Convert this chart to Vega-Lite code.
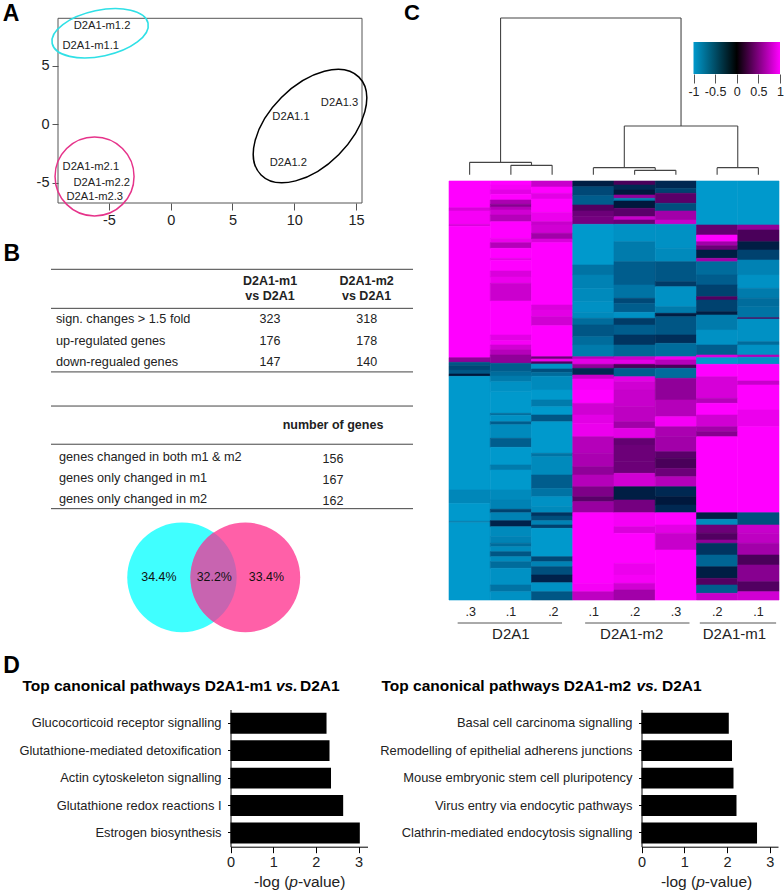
{"$schema":"https://vega.github.io/schema/vega-lite/v6.json","width":784,"height":893,"autosize":"none","padding":0,"background":"white","config":{"font":"Liberation Sans","view":{"stroke":null},"axis":{"grid":false,"labelColor":"#222","labelFont":"Liberation Sans"},"text":{"baseline":"middle","color":"#222"}},"resolve":{"scale":{"x":"independent","y":"independent"},"axis":{"x":"independent","y":"independent"}},"layer":[
{"encoding":{"x":{"field":"x","type":"quantitative","title":null,"scale":{"domain":[-9.13,15.49],"range":[58,362],"nice":false,"zero":false},"axis":{"orient":"bottom","offset":-690,"values":[-5,0,5,10,15],"labelExpr":"datum.value","domain":false,"tickSize":7,"tickColor":"#555","labelFontSize":14.5,"labelPadding":3,"labelFlush":false,"labelOverlap":false}},"y":{"field":"y","type":"quantitative","title":null,"scale":{"domain":[-6.73,9.06],"range":[203,18.3],"nice":false,"zero":false},"axis":{"orient":"left","offset":-58,"values":[-5,0,5],"labelExpr":"datum.value","domain":false,"tickSize":6,"tickColor":"#555","labelFontSize":14.5,"labelPadding":3,"labelOverlap":false}}},"layer":[
{"data":{"values":[{"x":-9.13,"x2":15.49,"y":-6.73,"y2":9.06}]},"mark":{"type":"rect","fill":"transparent","stroke":"#555","strokeWidth":1},"encoding":{"x2":{"field":"x2"},"y2":{"field":"y2"}}},
{"data":{"values":[{"x":-5.72,"y":7.78}]},"mark":{"type":"point","filled":false,"opacity":1,"stroke":"#2FE0E6","strokeWidth":1.6,"size":9604,"angle":348,"clip":false,"shape":"M1,0C1,.259 .552,.469 0,.469C-.552,.469 -1,.259 -1,0C-1,-.259 -.552,-.469 0,-.469C.552,-.469 1,-.259 1,0Z"}},
{"data":{"values":[{"x":-6.17,"y":-4.46}]},"mark":{"type":"point","filled":false,"opacity":1,"stroke":"#E6338A","strokeWidth":1.5,"size":6241,"shape":"circle"}},
{"data":{"values":[{"x":11.28,"y":-0.15}]},"mark":{"type":"point","filled":false,"opacity":1,"stroke":"#000","strokeWidth":1.5,"size":19155,"angle":315,"shape":"M1,0C1,.323 .552,.585 0,.585C-.552,.585 -1,.323 -1,0C-1,-.323 -.552,-.585 0,-.585C.552,-.585 1,-.323 1,0Z"}},
{"data":{"values":[{"t":"D2A1-m1.2","x":-5.56,"y":8.38},{"t":"D2A1-m1.1","x":-6.48,"y":6.67},{"t":"D2A1.3","x":13.67,"y":1.79},{"t":"D2A1.1","x":9.74,"y":0.62},{"t":"D2A1.2","x":9.52,"y":-3.33},{"t":"D2A1-m2.1","x":-6.47,"y":-3.68},{"t":"D2A1-m2.2","x":-5.59,"y":-4.99},{"t":"D2A1-m2.3","x":-6.15,"y":-6.24}]},"mark":{"type":"text","fontSize":11.2},"encoding":{"text":{"field":"t"}}},
{"data":{"values":[{"t":"A","x":-12.93,"y":9.43}]},"mark":{"type":"text","fontSize":23,"fontWeight":"bold","color":"#000"},"encoding":{"text":{"field":"t"}}}
]},
{"encoding":{"x":{"field":"x","type":"quantitative","title":null,"scale":{"domain":[0,1],"range":[51,413],"nice":false,"zero":false},"axis":null},"y":{"field":"y","type":"quantitative","title":null,"scale":{"domain":[0,11.25],"range":[269.3,509.3],"nice":false,"zero":false},"axis":null}},"layer":[
{"data":{"values":[{"x":0,"x2":1,"y":0},{"x":0,"x2":1,"y":1.83},{"x":0,"x2":1,"y":4.81},{"x":0,"x2":1,"y":6.41},{"x":0,"x2":1,"y":8.2},{"x":0,"x2":1,"y":11.22}]},"mark":{"type":"rule","color":"#444","strokeWidth":1},"encoding":{"x2":{"field":"x2"}}},
{"data":{"values":[{"t":"D2A1-m1","x":0.605,"y":0.534},{"t":"vs D2A1","x":0.605,"y":1.24},{"t":"D2A1-m2","x":0.872,"y":0.534},{"t":"vs D2A1","x":0.872,"y":1.24},{"t":"number of genes","x":0.779,"y":7.3}]},"mark":{"type":"text","fontSize":12.5,"fontWeight":"bold"},"encoding":{"text":{"field":"t"}}},
{"data":{"values":[{"t":"323","x":0.605,"y":2.34},{"t":"318","x":0.872,"y":2.34},{"t":"176","x":0.605,"y":3.35},{"t":"178","x":0.872,"y":3.35},{"t":"147","x":0.605,"y":4.35},{"t":"140","x":0.872,"y":4.35},{"t":"156","x":0.779,"y":8.89},{"t":"167","x":0.779,"y":9.88},{"t":"162","x":0.779,"y":10.88}]},"mark":{"type":"text","fontSize":12.5},"encoding":{"text":{"field":"t"}}},
{"data":{"values":[{"t":"sign. changes > 1.5 fold","x":0.0138,"y":2.34},{"t":"up-regulated genes","x":0.0138,"y":3.35},{"t":"down-regualed genes","x":0.0138,"y":4.35},{"t":"genes changed in both m1 & m2","x":0.022,"y":8.79},{"t":"genes only changed in m1","x":0.022,"y":9.77},{"t":"genes only changed in m2","x":0.022,"y":10.77}]},"mark":{"type":"text","fontSize":12.7,"align":"left"},"encoding":{"text":{"field":"t"}}},
{"data":{"values":[{"x":0.362,"y":14.44}]},"mark":{"type":"point","filled":true,"opacity":1,"color":"#40FFFF","size":12012,"shape":"circle","strokeWidth":0}},
{"data":{"values":[{"x":0.537,"y":14.44}]},"mark":{"type":"point","filled":true,"opacity":1,"color":"#FF60A8","size":12012,"shape":"circle","strokeWidth":0}},
{"data":{"values":[{"x":0.449,"y":14.44}]},"mark":{"type":"point","filled":true,"opacity":1,"color":"#C864B0","size":12012,"strokeWidth":0,"shape":"M0,-.8163C.563,-.4179 .563,.4179 0,.8163C-.563,.4179 -.563,-.4179 0,-.8163Z"}},
{"data":{"values":[{"t":"34.4%","x":0.298,"y":14.44},{"t":"32.2%","x":0.451,"y":14.44},{"t":"33.4%","x":0.595,"y":14.44}]},"mark":{"type":"text","fontSize":12.4,"color":"#111"},"encoding":{"text":{"field":"t"}}},
{"data":{"values":[{"t":"B","x":-0.108,"y":-0.74}]},"mark":{"type":"text","fontSize":23,"fontWeight":"bold","color":"#000"},"encoding":{"text":{"field":"t"}}}
]},
{"encoding":{"x":{"field":"x","type":"quantitative","title":null,"scale":{"domain":[0,8],"range":[449,779],"nice":false,"zero":false},"axis":null},"y":{"field":"y","type":"quantitative","title":null,"scale":{"domain":[-0.19,5.24],"range":[181,0],"nice":false,"zero":false},"axis":null}},"layer":[
{"data":{"values":[{"x":0.5,"x2":2,"y":0.37,"y2":0.37},{"x":0.5,"x2":0.5,"y":0.37,"y2":0},{"x":2,"x2":2,"y":0.37,"y2":0.28},{"x":1.5,"x2":2.5,"y":0.28,"y2":0.28},{"x":1.5,"x2":1.5,"y":0.28,"y2":0},{"x":2.5,"x2":2.5,"y":0.28,"y2":0},{"x":1.25,"x2":1.25,"y":0.37,"y2":4.7},{"x":1.25,"x2":5.625,"y":4.7,"y2":4.7},{"x":5.625,"x2":5.625,"y":4.7,"y2":1.46},{"x":4.25,"x2":7,"y":1.46,"y2":1.46},{"x":4.25,"x2":4.25,"y":1.46,"y2":0.21},{"x":7,"x2":7,"y":1.46,"y2":0.21},{"x":3.5,"x2":5,"y":0.21,"y2":0.21},{"x":3.5,"x2":3.5,"y":0.21,"y2":0},{"x":5,"x2":5,"y":0.21,"y2":0.13},{"x":4.5,"x2":5.5,"y":0.13,"y2":0.13},{"x":4.5,"x2":4.5,"y":0.13,"y2":0},{"x":5.5,"x2":5.5,"y":0.13,"y2":0},{"x":6.5,"x2":7.5,"y":0.21,"y2":0.21},{"x":6.5,"x2":6.5,"y":0.21,"y2":0},{"x":7.5,"x2":7.5,"y":0.21,"y2":0}]},"mark":{"type":"rule","color":"#444","strokeWidth":1.1},"encoding":{"x2":{"field":"x2"},"y2":{"field":"y2"}}},
{"data":{"values":[{"t":"C","x":-0.9,"y":4.84}]},"mark":{"type":"text","fontSize":22,"fontWeight":"bold","color":"#000"},"encoding":{"text":{"field":"t"}}}
]},
{"data":{"values":[{"lo":-1,"hi":1}]},"mark":{"type":"rect","color":{"gradient":"linear","x1":0,"x2":1,"y1":0,"y2":0,"stops":[{"offset":0,"color":"#0099CC"},{"offset":0.5,"color":"#000000"},{"offset":1,"color":"#FF00FF"}]}},"encoding":{"x":{"field":"lo","type":"quantitative","title":null,"scale":{"domain":[-1,1],"range":[693.5,780],"nice":false,"zero":false},"axis":{"orient":"bottom","offset":-819,"values":[-1,-0.5,0,0.5,1],"labelExpr":"datum.value","domain":false,"tickSize":9,"tickColor":"#555","labelFontSize":12.5,"labelPadding":2,"labelFlush":false,"labelOverlap":false}},"x2":{"field":"hi"},"y":{"datum":0,"type":"quantitative","title":null,"scale":{"domain":[0,1],"range":[74,42],"nice":false,"zero":false},"axis":null},"y2":{"datum":1}}},
{"encoding":{"x":{"field":"x","type":"quantitative","title":null,"scale":{"domain":[0,8],"range":[449,779],"nice":false,"zero":false},"axis":null},"y":{"field":"y","type":"quantitative","title":null,"scale":{"domain":[0,1257],"range":[181,600],"nice":false,"zero":false},"axis":null}},"layer":[
{"data":{"values":[
{"x":0,"x2":1,"y":0,"y2":80,"v":1},{"x":0,"x2":1,"y":80,"y2":90,"v":0.8},{"x":0,"x2":1,"y":90,"y2":130,"v":0.95},{"x":0,"x2":1,"y":130,"y2":136,"v":0.8},{"x":0,"x2":1,"y":136,"y2":530,"v":1},{"x":0,"x2":1,"y":530,"y2":544,"v":0.4},{"x":0,"x2":1,"y":544,"y2":554,"v":-0.55},{"x":0,"x2":1,"y":554,"y2":567,"v":-0.45},{"x":0,"x2":1,"y":567,"y2":579,"v":-0.55},{"x":0,"x2":1,"y":579,"y2":586,"v":-0.05},{"x":0,"x2":1,"y":586,"y2":927,"v":-1},{"x":0,"x2":1,"y":927,"y2":967,"v":-0.88},{"x":0,"x2":1,"y":967,"y2":1021,"v":-1},{"x":0,"x2":1,"y":1021,"y2":1025,"v":-0.8},{"x":0,"x2":1,"y":1025,"y2":1257,"v":-1},
{"x":1,"x2":2,"y":0,"y2":12,"v":1},{"x":1,"x2":2,"y":12,"y2":27,"v":0.95},{"x":1,"x2":2,"y":27,"y2":40,"v":0.85},{"x":1,"x2":2,"y":40,"y2":57,"v":1},{"x":1,"x2":2,"y":57,"y2":70,"v":0.55},{"x":1,"x2":2,"y":70,"y2":78,"v":0.35},{"x":1,"x2":2,"y":78,"y2":87,"v":0.6},{"x":1,"x2":2,"y":87,"y2":102,"v":0.75},{"x":1,"x2":2,"y":102,"y2":122,"v":0.6},{"x":1,"x2":2,"y":122,"y2":172,"v":1},{"x":1,"x2":2,"y":172,"y2":185,"v":0.9},{"x":1,"x2":2,"y":185,"y2":202,"v":0.6},{"x":1,"x2":2,"y":202,"y2":232,"v":1},{"x":1,"x2":2,"y":232,"y2":238,"v":0.85},{"x":1,"x2":2,"y":238,"y2":270,"v":1},{"x":1,"x2":2,"y":270,"y2":288,"v":0.8},{"x":1,"x2":2,"y":288,"y2":307,"v":0.9},{"x":1,"x2":2,"y":307,"y2":360,"v":0.72},{"x":1,"x2":2,"y":360,"y2":462,"v":1},{"x":1,"x2":2,"y":462,"y2":479,"v":0.85},{"x":1,"x2":2,"y":479,"y2":492,"v":0.95},{"x":1,"x2":2,"y":492,"y2":507,"v":0.75},{"x":1,"x2":2,"y":507,"y2":522,"v":0.6},{"x":1,"x2":2,"y":522,"y2":547,"v":0.4},{"x":1,"x2":2,"y":547,"y2":572,"v":-0.6},{"x":1,"x2":2,"y":572,"y2":585,"v":-0.7},{"x":1,"x2":2,"y":585,"y2":602,"v":-0.8},{"x":1,"x2":2,"y":602,"y2":632,"v":-0.95},{"x":1,"x2":2,"y":632,"y2":697,"v":-1},{"x":1,"x2":2,"y":697,"y2":703,"v":-0.7},{"x":1,"x2":2,"y":703,"y2":722,"v":-0.95},{"x":1,"x2":2,"y":722,"y2":731,"v":-0.6},{"x":1,"x2":2,"y":731,"y2":772,"v":-0.9},{"x":1,"x2":2,"y":772,"y2":799,"v":-0.6},{"x":1,"x2":2,"y":799,"y2":852,"v":-1},{"x":1,"x2":2,"y":852,"y2":867,"v":-0.8},{"x":1,"x2":2,"y":867,"y2":927,"v":-1},{"x":1,"x2":2,"y":927,"y2":957,"v":-0.9},{"x":1,"x2":2,"y":957,"y2":985,"v":-0.85},{"x":1,"x2":2,"y":985,"y2":995,"v":-0.4},{"x":1,"x2":2,"y":995,"y2":1019,"v":-0.85},{"x":1,"x2":2,"y":1019,"y2":1037,"v":-0.15},{"x":1,"x2":2,"y":1037,"y2":1067,"v":-0.9},{"x":1,"x2":2,"y":1067,"y2":1087,"v":-0.85},{"x":1,"x2":2,"y":1087,"y2":1097,"v":-0.7},{"x":1,"x2":2,"y":1097,"y2":1112,"v":-0.9},{"x":1,"x2":2,"y":1112,"y2":1127,"v":-0.55},{"x":1,"x2":2,"y":1127,"y2":1142,"v":-0.9},{"x":1,"x2":2,"y":1142,"y2":1162,"v":-0.7},{"x":1,"x2":2,"y":1162,"y2":1212,"v":-0.95},{"x":1,"x2":2,"y":1212,"y2":1232,"v":-0.75},{"x":1,"x2":2,"y":1232,"y2":1257,"v":-0.95},
{"x":2,"x2":3,"y":0,"y2":18,"v":0.7},{"x":2,"x2":3,"y":18,"y2":37,"v":1},{"x":2,"x2":3,"y":37,"y2":54,"v":0.85},{"x":2,"x2":3,"y":54,"y2":94,"v":1},{"x":2,"x2":3,"y":94,"y2":122,"v":0.9},{"x":2,"x2":3,"y":122,"y2":132,"v":0.7},{"x":2,"x2":3,"y":132,"y2":157,"v":0.75},{"x":2,"x2":3,"y":157,"y2":174,"v":0.5},{"x":2,"x2":3,"y":174,"y2":185,"v":0.8},{"x":2,"x2":3,"y":185,"y2":372,"v":1},{"x":2,"x2":3,"y":372,"y2":387,"v":0.8},{"x":2,"x2":3,"y":387,"y2":407,"v":0.85},{"x":2,"x2":3,"y":407,"y2":434,"v":0.75},{"x":2,"x2":3,"y":434,"y2":527,"v":1},{"x":2,"x2":3,"y":527,"y2":534,"v":0.2},{"x":2,"x2":3,"y":534,"y2":542,"v":0.9},{"x":2,"x2":3,"y":542,"y2":549,"v":0.05},{"x":2,"x2":3,"y":549,"y2":564,"v":-0.95},{"x":2,"x2":3,"y":564,"y2":574,"v":-0.5},{"x":2,"x2":3,"y":574,"y2":586,"v":-0.7},{"x":2,"x2":3,"y":586,"y2":627,"v":-0.9},{"x":2,"x2":3,"y":627,"y2":657,"v":-1},{"x":2,"x2":3,"y":657,"y2":677,"v":-0.8},{"x":2,"x2":3,"y":677,"y2":702,"v":-1},{"x":2,"x2":3,"y":702,"y2":722,"v":-0.55},{"x":2,"x2":3,"y":722,"y2":817,"v":-1},{"x":2,"x2":3,"y":817,"y2":827,"v":-0.75},{"x":2,"x2":3,"y":827,"y2":882,"v":-0.9},{"x":2,"x2":3,"y":882,"y2":922,"v":-0.6},{"x":2,"x2":3,"y":922,"y2":947,"v":-0.75},{"x":2,"x2":3,"y":947,"y2":977,"v":-0.95},{"x":2,"x2":3,"y":977,"y2":995,"v":-0.9},{"x":2,"x2":3,"y":995,"y2":1005,"v":-0.3},{"x":2,"x2":3,"y":1005,"y2":1019,"v":-0.5},{"x":2,"x2":3,"y":1019,"y2":1032,"v":-0.85},{"x":2,"x2":3,"y":1032,"y2":1042,"v":-0.4},{"x":2,"x2":3,"y":1042,"y2":1127,"v":-1},{"x":2,"x2":3,"y":1127,"y2":1142,"v":-0.45},{"x":2,"x2":3,"y":1142,"y2":1157,"v":-0.85},{"x":2,"x2":3,"y":1157,"y2":1182,"v":-0.5},{"x":2,"x2":3,"y":1182,"y2":1205,"v":-0.15},{"x":2,"x2":3,"y":1205,"y2":1232,"v":-0.95},{"x":2,"x2":3,"y":1232,"y2":1257,"v":-0.55},
{"x":3,"x2":4,"y":0,"y2":17,"v":-0.1},{"x":3,"x2":4,"y":17,"y2":44,"v":-0.45},{"x":3,"x2":4,"y":44,"y2":72,"v":-0.6},{"x":3,"x2":4,"y":72,"y2":90,"v":0.05},{"x":3,"x2":4,"y":90,"y2":107,"v":0.2},{"x":3,"x2":4,"y":107,"y2":130,"v":0.25},{"x":3,"x2":4,"y":130,"y2":252,"v":-1},{"x":3,"x2":4,"y":252,"y2":282,"v":-0.75},{"x":3,"x2":4,"y":282,"y2":322,"v":-0.85},{"x":3,"x2":4,"y":322,"y2":362,"v":-0.9},{"x":3,"x2":4,"y":362,"y2":394,"v":-0.95},{"x":3,"x2":4,"y":394,"y2":412,"v":-0.9},{"x":3,"x2":4,"y":412,"y2":432,"v":-0.7},{"x":3,"x2":4,"y":432,"y2":467,"v":-0.55},{"x":3,"x2":4,"y":467,"y2":492,"v":-0.7},{"x":3,"x2":4,"y":492,"y2":527,"v":-0.8},{"x":3,"x2":4,"y":527,"y2":534,"v":0.6},{"x":3,"x2":4,"y":534,"y2":550,"v":0.85},{"x":3,"x2":4,"y":550,"y2":562,"v":0.4},{"x":3,"x2":4,"y":562,"y2":582,"v":-0.2},{"x":3,"x2":4,"y":582,"y2":594,"v":0.7},{"x":3,"x2":4,"y":594,"y2":627,"v":0.95},{"x":3,"x2":4,"y":627,"y2":667,"v":1},{"x":3,"x2":4,"y":667,"y2":702,"v":0.75},{"x":3,"x2":4,"y":702,"y2":727,"v":0.85},{"x":3,"x2":4,"y":727,"y2":767,"v":0.9},{"x":3,"x2":4,"y":767,"y2":817,"v":0.6},{"x":3,"x2":4,"y":817,"y2":857,"v":0.55},{"x":3,"x2":4,"y":857,"y2":882,"v":0.4},{"x":3,"x2":4,"y":882,"y2":917,"v":0.6},{"x":3,"x2":4,"y":917,"y2":947,"v":0.3},{"x":3,"x2":4,"y":947,"y2":962,"v":0.1},{"x":3,"x2":4,"y":962,"y2":995,"v":0.45},{"x":3,"x2":4,"y":995,"y2":1207,"v":1},{"x":3,"x2":4,"y":1207,"y2":1232,"v":0.95},{"x":3,"x2":4,"y":1232,"y2":1257,"v":0.65},
{"x":4,"x2":5,"y":0,"y2":12,"v":0},{"x":4,"x2":5,"y":12,"y2":27,"v":-0.2},{"x":4,"x2":5,"y":27,"y2":42,"v":-0.05},{"x":4,"x2":5,"y":42,"y2":52,"v":0.4},{"x":4,"x2":5,"y":52,"y2":60,"v":-0.8},{"x":4,"x2":5,"y":60,"y2":82,"v":-0.05},{"x":4,"x2":5,"y":82,"y2":107,"v":0.1},{"x":4,"x2":5,"y":107,"y2":117,"v":0.7},{"x":4,"x2":5,"y":117,"y2":130,"v":0.2},{"x":4,"x2":5,"y":130,"y2":182,"v":-0.95},{"x":4,"x2":5,"y":182,"y2":242,"v":-0.8},{"x":4,"x2":5,"y":242,"y2":312,"v":-0.6},{"x":4,"x2":5,"y":312,"y2":352,"v":-0.75},{"x":4,"x2":5,"y":352,"y2":367,"v":-0.45},{"x":4,"x2":5,"y":367,"y2":394,"v":-0.6},{"x":4,"x2":5,"y":394,"y2":412,"v":-0.95},{"x":4,"x2":5,"y":412,"y2":432,"v":-0.35},{"x":4,"x2":5,"y":432,"y2":462,"v":-0.6},{"x":4,"x2":5,"y":462,"y2":492,"v":-0.3},{"x":4,"x2":5,"y":492,"y2":527,"v":-0.65},{"x":4,"x2":5,"y":527,"y2":537,"v":0.7},{"x":4,"x2":5,"y":537,"y2":550,"v":0.85},{"x":4,"x2":5,"y":550,"y2":562,"v":0},{"x":4,"x2":5,"y":562,"y2":587,"v":-0.6},{"x":4,"x2":5,"y":587,"y2":602,"v":0.85},{"x":4,"x2":5,"y":602,"y2":627,"v":0.75},{"x":4,"x2":5,"y":627,"y2":677,"v":0.7},{"x":4,"x2":5,"y":677,"y2":722,"v":0.65},{"x":4,"x2":5,"y":722,"y2":742,"v":0.5},{"x":4,"x2":5,"y":742,"y2":772,"v":0.85},{"x":4,"x2":5,"y":772,"y2":792,"v":0.15},{"x":4,"x2":5,"y":792,"y2":842,"v":0.2},{"x":4,"x2":5,"y":842,"y2":877,"v":0.2},{"x":4,"x2":5,"y":877,"y2":917,"v":0.75},{"x":4,"x2":5,"y":917,"y2":957,"v":-0.1},{"x":4,"x2":5,"y":957,"y2":995,"v":0.25},{"x":4,"x2":5,"y":995,"y2":1037,"v":0.95},{"x":4,"x2":5,"y":1037,"y2":1057,"v":0.8},{"x":4,"x2":5,"y":1057,"y2":1147,"v":1},{"x":4,"x2":5,"y":1147,"y2":1182,"v":0.9},{"x":4,"x2":5,"y":1182,"y2":1207,"v":0.95},{"x":4,"x2":5,"y":1207,"y2":1227,"v":0.75},{"x":4,"x2":5,"y":1227,"y2":1257,"v":0.5},
{"x":5,"x2":6,"y":0,"y2":22,"v":-0.2},{"x":5,"x2":6,"y":22,"y2":37,"v":-0.4},{"x":5,"x2":6,"y":37,"y2":67,"v":0.1},{"x":5,"x2":6,"y":67,"y2":90,"v":-0.5},{"x":5,"x2":6,"y":90,"y2":117,"v":0.5},{"x":5,"x2":6,"y":117,"y2":130,"v":0.7},{"x":5,"x2":6,"y":130,"y2":202,"v":-0.95},{"x":5,"x2":6,"y":202,"y2":242,"v":-0.9},{"x":5,"x2":6,"y":242,"y2":302,"v":-0.55},{"x":5,"x2":6,"y":302,"y2":317,"v":-0.35},{"x":5,"x2":6,"y":317,"y2":377,"v":-0.95},{"x":5,"x2":6,"y":377,"y2":397,"v":-0.8},{"x":5,"x2":6,"y":397,"y2":407,"v":-0.1},{"x":5,"x2":6,"y":407,"y2":462,"v":-0.55},{"x":5,"x2":6,"y":462,"y2":487,"v":-0.25},{"x":5,"x2":6,"y":487,"y2":527,"v":-0.7},{"x":5,"x2":6,"y":527,"y2":537,"v":0.9},{"x":5,"x2":6,"y":537,"y2":552,"v":0.6},{"x":5,"x2":6,"y":552,"y2":562,"v":0},{"x":5,"x2":6,"y":562,"y2":592,"v":-0.7},{"x":5,"x2":6,"y":592,"y2":657,"v":0.4},{"x":5,"x2":6,"y":657,"y2":707,"v":0.6},{"x":5,"x2":6,"y":707,"y2":737,"v":0.95},{"x":5,"x2":6,"y":737,"y2":767,"v":0.55},{"x":5,"x2":6,"y":767,"y2":812,"v":0.5},{"x":5,"x2":6,"y":812,"y2":832,"v":0.1},{"x":5,"x2":6,"y":832,"y2":862,"v":0},{"x":5,"x2":6,"y":862,"y2":887,"v":0.2},{"x":5,"x2":6,"y":887,"y2":917,"v":0.6},{"x":5,"x2":6,"y":917,"y2":947,"v":-0.2},{"x":5,"x2":6,"y":947,"y2":972,"v":-0.05},{"x":5,"x2":6,"y":972,"y2":995,"v":-0.2},{"x":5,"x2":6,"y":995,"y2":1032,"v":1},{"x":5,"x2":6,"y":1032,"y2":1057,"v":0.85},{"x":5,"x2":6,"y":1057,"y2":1107,"v":0.7},{"x":5,"x2":6,"y":1107,"y2":1257,"v":1},
{"x":6,"x2":7,"y":0,"y2":132,"v":-1},{"x":6,"x2":7,"y":132,"y2":162,"v":0.15},{"x":6,"x2":7,"y":162,"y2":182,"v":1},{"x":6,"x2":7,"y":182,"y2":194,"v":0.5},{"x":6,"x2":7,"y":194,"y2":207,"v":0.2},{"x":6,"x2":7,"y":207,"y2":232,"v":-0.1},{"x":6,"x2":7,"y":232,"y2":242,"v":0.5},{"x":6,"x2":7,"y":242,"y2":282,"v":-0.7},{"x":6,"x2":7,"y":282,"y2":312,"v":-0.6},{"x":6,"x2":7,"y":312,"y2":347,"v":-0.4},{"x":6,"x2":7,"y":347,"y2":357,"v":0.05},{"x":6,"x2":7,"y":357,"y2":392,"v":-0.4},{"x":6,"x2":7,"y":392,"y2":402,"v":-0.1},{"x":6,"x2":7,"y":402,"y2":447,"v":-0.8},{"x":6,"x2":7,"y":447,"y2":492,"v":-0.95},{"x":6,"x2":7,"y":492,"y2":522,"v":-0.6},{"x":6,"x2":7,"y":522,"y2":530,"v":0.8},{"x":6,"x2":7,"y":530,"y2":550,"v":-1},{"x":6,"x2":7,"y":550,"y2":587,"v":1},{"x":6,"x2":7,"y":587,"y2":652,"v":0.78},{"x":6,"x2":7,"y":652,"y2":667,"v":0.6},{"x":6,"x2":7,"y":667,"y2":702,"v":1},{"x":6,"x2":7,"y":702,"y2":737,"v":0.75},{"x":6,"x2":7,"y":737,"y2":752,"v":0.5},{"x":6,"x2":7,"y":752,"y2":767,"v":0.35},{"x":6,"x2":7,"y":767,"y2":995,"v":1},{"x":6,"x2":7,"y":995,"y2":1015,"v":-0.1},{"x":6,"x2":7,"y":1015,"y2":1032,"v":-0.9},{"x":6,"x2":7,"y":1032,"y2":1057,"v":0.2},{"x":6,"x2":7,"y":1057,"y2":1077,"v":0.05},{"x":6,"x2":7,"y":1077,"y2":1087,"v":0.4},{"x":6,"x2":7,"y":1087,"y2":1122,"v":-0.3},{"x":6,"x2":7,"y":1122,"y2":1157,"v":-0.65},{"x":6,"x2":7,"y":1157,"y2":1192,"v":-0.1},{"x":6,"x2":7,"y":1192,"y2":1212,"v":0.05},{"x":6,"x2":7,"y":1212,"y2":1237,"v":-0.6},{"x":6,"x2":7,"y":1237,"y2":1257,"v":0.7},
{"x":7,"x2":8,"y":0,"y2":132,"v":-1},{"x":7,"x2":8,"y":132,"y2":147,"v":0.4},{"x":7,"x2":8,"y":147,"y2":182,"v":0},{"x":7,"x2":8,"y":182,"y2":207,"v":-0.1},{"x":7,"x2":8,"y":207,"y2":237,"v":-0.4},{"x":7,"x2":8,"y":237,"y2":282,"v":-0.85},{"x":7,"x2":8,"y":282,"y2":322,"v":-0.95},{"x":7,"x2":8,"y":322,"y2":352,"v":-0.8},{"x":7,"x2":8,"y":352,"y2":377,"v":-0.7},{"x":7,"x2":8,"y":377,"y2":410,"v":-0.75},{"x":7,"x2":8,"y":410,"y2":414,"v":0},{"x":7,"x2":8,"y":414,"y2":482,"v":-0.95},{"x":7,"x2":8,"y":482,"y2":492,"v":-0.7},{"x":7,"x2":8,"y":492,"y2":522,"v":-0.95},{"x":7,"x2":8,"y":522,"y2":529,"v":0.6},{"x":7,"x2":8,"y":529,"y2":550,"v":-0.95},{"x":7,"x2":8,"y":550,"y2":600,"v":1},{"x":7,"x2":8,"y":600,"y2":612,"v":0.7},{"x":7,"x2":8,"y":612,"y2":687,"v":1},{"x":7,"x2":8,"y":687,"y2":737,"v":0.9},{"x":7,"x2":8,"y":737,"y2":995,"v":1},{"x":7,"x2":8,"y":995,"y2":1032,"v":-0.5},{"x":7,"x2":8,"y":1032,"y2":1057,"v":0.7},{"x":7,"x2":8,"y":1057,"y2":1087,"v":0.65},{"x":7,"x2":8,"y":1087,"y2":1122,"v":0.5},{"x":7,"x2":8,"y":1122,"y2":1152,"v":0},{"x":7,"x2":8,"y":1152,"y2":1202,"v":0.35},{"x":7,"x2":8,"y":1202,"y2":1232,"v":0.05},{"x":7,"x2":8,"y":1232,"y2":1257,"v":0.75}
]},"mark":{"type":"rect","strokeWidth":0.6},"encoding":{"x2":{"field":"x2"},"y2":{"field":"y2"},"color":{"field":"v","type":"quantitative","scale":{"domain":[-1,0,1],"range":["#0099CC","#000000","#FF00FF"]},"legend":null},"stroke":{"field":"v","type":"quantitative","scale":{"domain":[-1,0,1],"range":["#0099CC","#000000","#FF00FF"]},"legend":null}}},
{"data":{"values":[{"t":".3","x":0.526,"y":1292},{"t":".1","x":1.5,"y":1292},{"t":".2","x":2.53,"y":1292},{"t":".1","x":3.51,"y":1292},{"t":".2","x":4.51,"y":1292},{"t":".3","x":5.5,"y":1292},{"t":".2","x":6.5,"y":1292},{"t":".1","x":7.5,"y":1292}]},"mark":{"type":"text","fontSize":12.5},"encoding":{"text":{"field":"t"}}},
{"data":{"values":[{"x":0.21,"x2":2.74,"y":1326},{"x":3.3,"x2":5.83,"y":1326},{"x":6.08,"x2":7.93,"y":1326}]},"mark":{"type":"rule","color":"#555","strokeWidth":1},"encoding":{"x2":{"field":"x2"}}},
{"data":{"values":[{"t":"D2A1","x":1.5,"y":1359},{"t":"D2A1-m2","x":4.43,"y":1359},{"t":"D2A1-m1","x":6.92,"y":1359}]},"mark":{"type":"text","fontSize":15},"encoding":{"text":{"field":"t"}}}
]},
{"encoding":{"x":{"field":"x","type":"quantitative","title":null,"scale":{"domain":[0,3.21],"range":[230.5,367.5],"nice":false,"zero":false},"axis":{"orient":"bottom","offset":-46.3,"values":[0,1,2,3],"domainColor":"#000","tickColor":"#000","tickSize":6,"labelFontSize":14.5,"labelPadding":3,"labelFlush":false}},"y":{"field":"cat","type":"nominal","title":null,"scale":{"domain":["Glucocorticoid receptor signalling","Glutathione-mediated detoxification","Actin cytoskeleton signalling","Glutathione redox reactions I","Estrogen biosynthesis"],"range":[709.5,846.7],"paddingInner":0.24,"paddingOuter":0.12},"axis":{"orient":"left","offset":-230.5,"domainColor":"#000","tickColor":"#000","tickSize":3,"labelFontSize":12.9,"labelPadding":6.5,"labelLimit":300}}},"layer":[
{"data":{"values":[{"cat":"Glucocorticoid receptor signalling","x":2.25},{"cat":"Glutathione-mediated detoxification","x":2.32},{"cat":"Actin cytoskeleton signalling","x":2.355},{"cat":"Glutathione redox reactions I","x":2.64},{"cat":"Estrogen biosynthesis","x":3.03}]},"mark":{"type":"bar","color":"#000"}},
{"data":{"values":[{"t":"Top canonical pathways D2A1-m1","x":-4.875,"cat":"Glucocorticoid receptor signalling"},{"t":"D2A1","x":1.629,"cat":"Glucocorticoid receptor signalling"}]},"mark":{"type":"text","align":"left","fontSize":15.5,"fontWeight":"bold","dy":-37.3,"color":"#000"},"encoding":{"text":{"field":"t"}}},
{"data":{"values":[{"t":"vs.","x":1.066,"cat":"Glucocorticoid receptor signalling"}]},"mark":{"type":"text","align":"left","fontSize":15.5,"fontWeight":"bold","fontStyle":"italic","dy":-37.3,"color":"#000"},"encoding":{"text":{"field":"t"}}},
{"data":{"values":[{"t":"-log (","x":0.551,"cat":"Estrogen biosynthesis"},{"t":"-value)","x":1.582,"cat":"Estrogen biosynthesis"}]},"mark":{"type":"text","align":"left","fontSize":15.5,"dy":49},"encoding":{"text":{"field":"t"}}},
{"data":{"values":[{"t":"p","x":1.378,"cat":"Estrogen biosynthesis"}]},"mark":{"type":"text","align":"left","fontSize":15.5,"fontStyle":"italic","dy":49},"encoding":{"text":{"field":"t"}}},
{"data":{"values":[{"t":"D","x":-5.13,"cat":"Glucocorticoid receptor signalling"}]},"mark":{"type":"text","fontSize":23,"fontWeight":"bold","dy":-57,"color":"#000"},"encoding":{"text":{"field":"t"}}}
]},
{"encoding":{"x":{"field":"x","type":"quantitative","title":null,"scale":{"domain":[0,3.19],"range":[641.5,778],"nice":false,"zero":false},"axis":{"orient":"bottom","offset":-46.3,"values":[0,1,2,3],"domainColor":"#000","tickColor":"#000","tickSize":6,"labelFontSize":14.5,"labelPadding":3,"labelFlush":false}},"y":{"field":"cat","type":"nominal","title":null,"scale":{"domain":["Basal cell carcinoma signalling","Remodelling of epithelial adherens junctions","Mouse embryonic stem cell pluripotency","Virus entry via endocytic pathways","Clathrin-mediated endocytosis signalling"],"range":[709.5,846.7],"paddingInner":0.24,"paddingOuter":0.12},"axis":{"orient":"left","offset":-641.5,"domainColor":"#000","tickColor":"#000","tickSize":3,"labelFontSize":12.9,"labelPadding":6.5,"labelLimit":300}}},"layer":[
{"data":{"values":[{"cat":"Basal cell carcinoma signalling","x":2.04},{"cat":"Remodelling of epithelial adherens junctions","x":2.115},{"cat":"Mouse embryonic stem cell pluripotency","x":2.15},{"cat":"Virus entry via endocytic pathways","x":2.22},{"cat":"Clathrin-mediated endocytosis signalling","x":2.7}]},"mark":{"type":"bar","color":"#000"}},
{"data":{"values":[{"t":"Top canonical pathways D2A1-m2","x":-6.075,"cat":"Basal cell carcinoma signalling"},{"t":"D2A1","x":0.479,"cat":"Basal cell carcinoma signalling"}]},"mark":{"type":"text","align":"left","fontSize":15.5,"fontWeight":"bold","dy":-37.3,"color":"#000"},"encoding":{"text":{"field":"t"}}},
{"data":{"values":[{"t":"vs.","x":-0.117,"cat":"Basal cell carcinoma signalling"}]},"mark":{"type":"text","align":"left","fontSize":15.5,"fontWeight":"bold","fontStyle":"italic","dy":-37.3,"color":"#000"},"encoding":{"text":{"field":"t"}}},
{"data":{"values":[{"t":"-log (","x":0.453,"cat":"Clathrin-mediated endocytosis signalling"},{"t":"-value)","x":1.481,"cat":"Clathrin-mediated endocytosis signalling"}]},"mark":{"type":"text","align":"left","fontSize":15.5,"dy":49},"encoding":{"text":{"field":"t"}}},
{"data":{"values":[{"t":"p","x":1.28,"cat":"Clathrin-mediated endocytosis signalling"}]},"mark":{"type":"text","align":"left","fontSize":15.5,"fontStyle":"italic","dy":49},"encoding":{"text":{"field":"t"}}}
]}
]}
